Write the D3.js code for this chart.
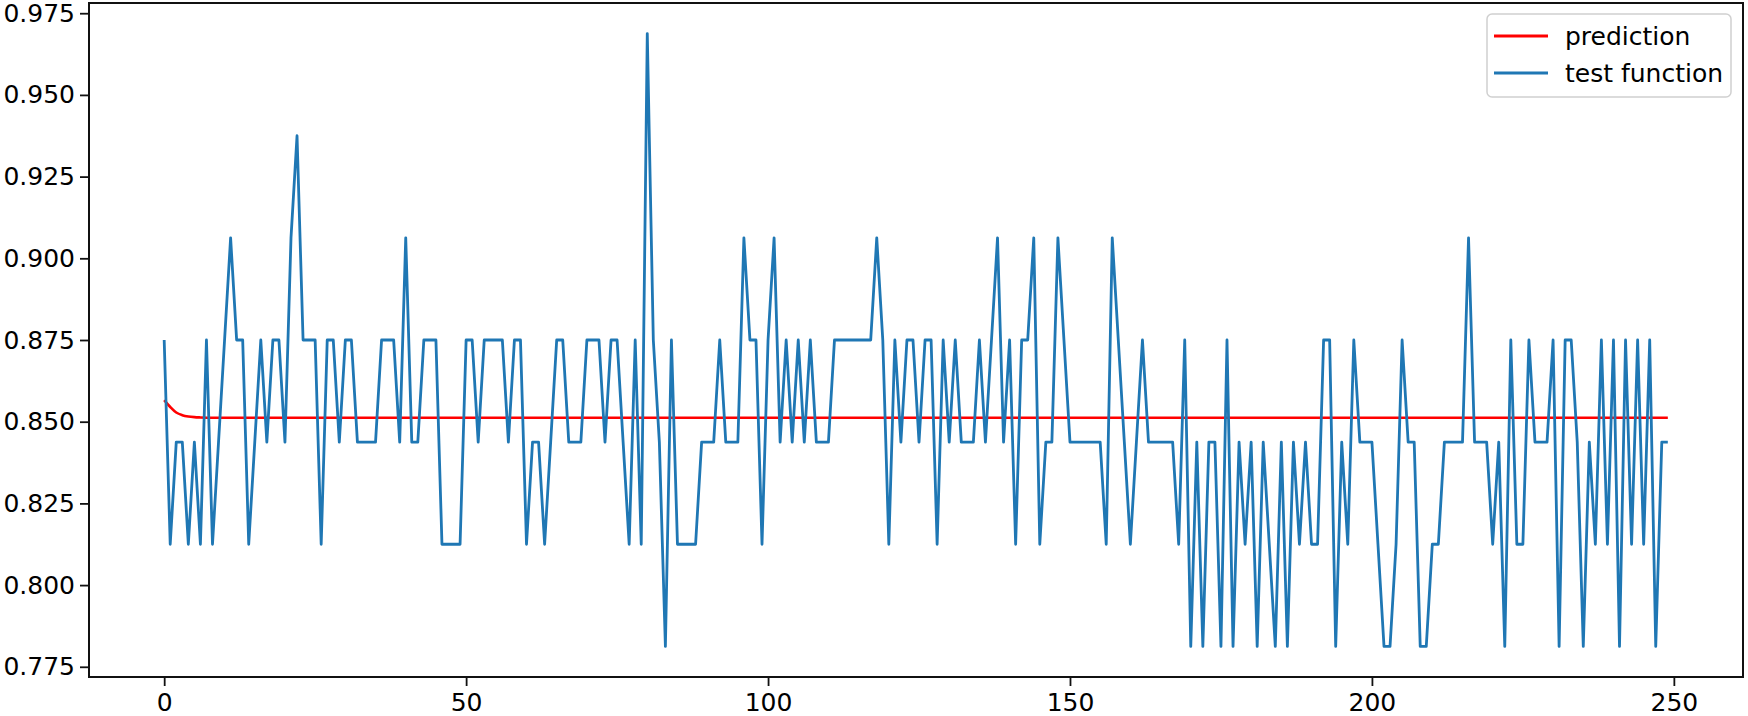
<!DOCTYPE html>
<html>
<head>
<meta charset="utf-8">
<script src="https://cdn.jsdelivr.net/npm/d3@7"></script>
<style>
  body { margin: 0; background: #fff; }
  svg text { font-family: "DejaVu Sans", sans-serif; }
</style>
</head>
<body>
<svg id="chart" width="1748" height="716"></svg>
<script>
// test function values, one per step (0..249)
var testValues = [
  0.875, 0.8125, 0.84375, 0.84375, 0.8125, 0.84375, 0.8125, 0.875, 0.8125, 0.84375,
  0.875, 0.90625, 0.875, 0.875, 0.8125, 0.84375, 0.875, 0.84375, 0.875, 0.875,
  0.84375, 0.90625, 0.9375, 0.875, 0.875, 0.875, 0.8125, 0.875, 0.875, 0.84375,
  0.875, 0.875, 0.84375, 0.84375, 0.84375, 0.84375, 0.875, 0.875, 0.875, 0.84375,
  0.90625, 0.84375, 0.84375, 0.875, 0.875, 0.875, 0.8125, 0.8125, 0.8125, 0.8125,
  0.875, 0.875, 0.84375, 0.875, 0.875, 0.875, 0.875, 0.84375, 0.875, 0.875,
  0.8125, 0.84375, 0.84375, 0.8125, 0.84375, 0.875, 0.875, 0.84375, 0.84375, 0.84375,
  0.875, 0.875, 0.875, 0.84375, 0.875, 0.875, 0.84375, 0.8125, 0.875, 0.8125,
  0.96875, 0.875, 0.84375, 0.78125, 0.875, 0.8125, 0.8125, 0.8125, 0.8125, 0.84375,
  0.84375, 0.84375, 0.875, 0.84375, 0.84375, 0.84375, 0.90625, 0.875, 0.875, 0.8125,
  0.875, 0.90625, 0.84375, 0.875, 0.84375, 0.875, 0.84375, 0.875, 0.84375, 0.84375,
  0.84375, 0.875, 0.875, 0.875, 0.875, 0.875, 0.875, 0.875, 0.90625, 0.875,
  0.8125, 0.875, 0.84375, 0.875, 0.875, 0.84375, 0.875, 0.875, 0.8125, 0.875,
  0.84375, 0.875, 0.84375, 0.84375, 0.84375, 0.875, 0.84375, 0.875, 0.90625, 0.84375,
  0.875, 0.8125, 0.875, 0.875, 0.90625, 0.8125, 0.84375, 0.84375, 0.90625, 0.875,
  0.84375, 0.84375, 0.84375, 0.84375, 0.84375, 0.84375, 0.8125, 0.90625, 0.875, 0.84375,
  0.8125, 0.84375, 0.875, 0.84375, 0.84375, 0.84375, 0.84375, 0.84375, 0.8125, 0.875,
  0.78125, 0.84375, 0.78125, 0.84375, 0.84375, 0.78125, 0.875, 0.78125, 0.84375, 0.8125,
  0.84375, 0.78125, 0.84375, 0.8125, 0.78125, 0.84375, 0.78125, 0.84375, 0.8125, 0.84375,
  0.8125, 0.8125, 0.875, 0.875, 0.78125, 0.84375, 0.8125, 0.875, 0.84375, 0.84375,
  0.84375, 0.8125, 0.78125, 0.78125, 0.8125, 0.875, 0.84375, 0.84375, 0.78125, 0.78125,
  0.8125, 0.8125, 0.84375, 0.84375, 0.84375, 0.84375, 0.90625, 0.84375, 0.84375, 0.84375,
  0.8125, 0.84375, 0.78125, 0.875, 0.8125, 0.8125, 0.875, 0.84375, 0.84375, 0.84375,
  0.875, 0.78125, 0.875, 0.875, 0.84375, 0.78125, 0.84375, 0.8125, 0.875, 0.8125,
  0.875, 0.78125, 0.875, 0.8125, 0.875, 0.8125, 0.875, 0.78125, 0.84375, 0.84375
]

// prediction curve, read at the points where it bends (flat after that)
var predSteps = [0, 1, 2, 3, 4, 5, 6, 8, 249]
var predValues = [0.8566, 0.8545, 0.8528, 0.852, 0.8516, 0.8514, 0.8513, 0.8512, 0.8512]

var xTicks = [0, 50, 100, 150, 200, 250]
var yTicks = [0.775, 0.800, 0.825, 0.850, 0.875, 0.900, 0.925, 0.950, 0.975]

var seriesNames = ["prediction", "test function"]
var seriesColors = ["#ff0000", "#1f77b4"]

// plot box (window.top is read-only, so no bare "top" here)
var plotLeft = 89, plotRight = 1743, plotTop = 3, plotBottom = 677

var svg = d3.select("#chart")

// same padding matplotlib puts round the data
var xPad = (testValues.length - 1) * 0.05
var xScale = d3.scaleLinear()
  .domain([-xPad, testValues.length - 1 + xPad])
  .range([plotLeft, plotRight])

var yMin = d3.min(testValues), yMax = d3.max(testValues)
var yPad = (yMax - yMin) * 0.05
var yScale = d3.scaleLinear()
  .domain([yMin - yPad, yMax + yPad])
  .range([plotBottom, plotTop])

var testLine = d3.line()
  .x((d, i) => xScale(i))
  .y(d => yScale(d))

var predLine = d3.line()
  .x((d, i) => xScale(predSteps[i]))
  .y(d => yScale(d))
  .curve(d3.curveMonotoneX)

svg.append("path")
  .datum(predValues)
  .attr("d", predLine)
  .attr("fill", "none")
  .attr("stroke", seriesColors[0])
  .attr("stroke-width", 2.6)

svg.append("path")
  .datum(testValues)
  .attr("d", testLine)
  .attr("fill", "none")
  .attr("stroke", seriesColors[1])
  .attr("stroke-width", 2.8)
  .attr("stroke-linejoin", "round")

// axes
svg.append("g")
  .attr("transform", "translate(0," + plotBottom + ")")
  .call(d3.axisBottom(xScale).tickValues(xTicks).tickSize(9).tickPadding(7))

svg.append("g")
  .attr("transform", "translate(" + plotLeft + ",0)")
  .call(d3.axisLeft(yScale).tickValues(yTicks).tickFormat(d3.format(".3f")).tickSize(9).tickPadding(5))

svg.selectAll(".domain").remove()
svg.selectAll(".tick line").attr("stroke", "#111").attr("stroke-width", 1.8)
svg.selectAll(".tick text")
  .attr("fill", "#000")
  .style("font-size", "25px")
  .style("font-family", "'DejaVu Sans', sans-serif")

// frame
svg.append("rect")
  .attr("x", plotLeft)
  .attr("y", plotTop)
  .attr("width", plotRight - plotLeft)
  .attr("height", plotBottom - plotTop)
  .attr("fill", "none")
  .attr("stroke", "#111")
  .attr("stroke-width", 2)

// legend
var legend = svg.append("g").attr("transform", "translate(1487,14)")
legend.append("rect")
  .attr("width", 244)
  .attr("height", 83)
  .attr("rx", 5)
  .attr("fill", "#fff")
  .attr("fill-opacity", 0.8)
  .attr("stroke", "#d0d0d0")
  .attr("stroke-width", 1.5)

var item = legend.selectAll(".item")
  .data(seriesNames)
  .enter().append("g")
  .attr("transform", (d, i) => "translate(0," + (22 + i * 37) + ")")

item.append("line")
  .attr("x1", 7).attr("x2", 61)
  .attr("stroke", (d, i) => seriesColors[i])
  .attr("stroke-width", 2.8)

item.append("text")
  .attr("x", 78)
  .attr("dy", "0.35em")
  .style("font-size", "25px")
  .attr("fill", "#000")
  .text(d => d)
</script>
</body>
</html>
